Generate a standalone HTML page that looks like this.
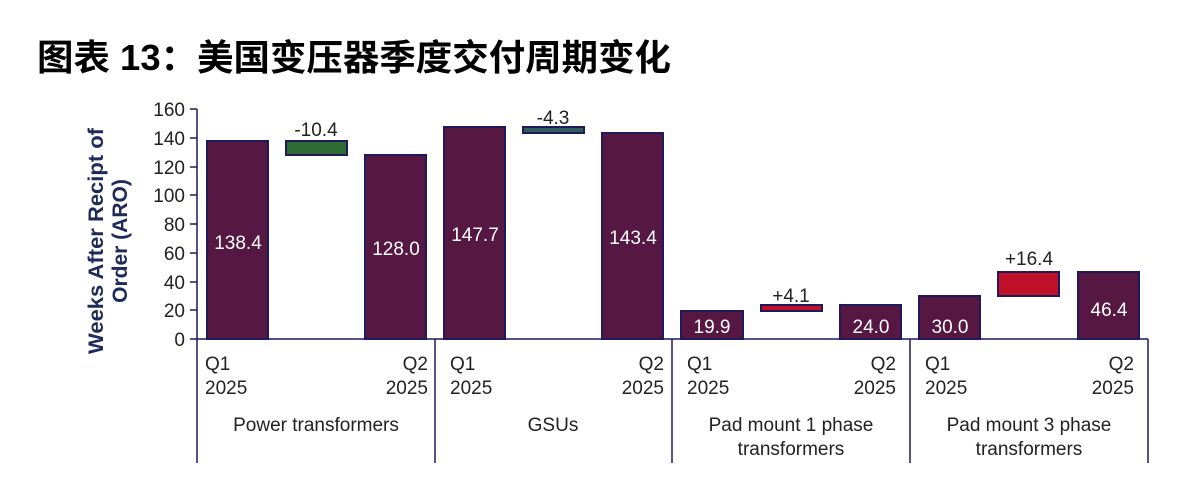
<!DOCTYPE html>
<html><head><meta charset="utf-8"><style>
body{margin:0;background:#fff;width:1185px;height:500px;overflow:hidden}
svg{display:block}
</style></head><body>
<svg width="1185" height="500" xmlns="http://www.w3.org/2000/svg" font-family="Liberation Sans, sans-serif">
<text x="37" y="70" font-size="36" font-weight="bold" fill="#000" textLength="634" lengthAdjust="spacingAndGlyphs" font-family="Liberation Sans, Noto Sans CJK SC, sans-serif">图表 13：美国变压器季度交付周期变化</text>
<g transform="translate(112,241) rotate(-90)" font-size="21" font-weight="bold" fill="#1f2a5a" text-anchor="middle">
<text x="0" y="-9" textLength="226" lengthAdjust="spacingAndGlyphs">Weeks After Recipt of</text>
<text x="0" y="15">Order (ARO)</text>
</g>
<g font-size="19" fill="#222" text-anchor="end">
<text x="185" y="116">160</text><text x="185" y="145">140</text><text x="185" y="174">120</text><text x="185" y="202">100</text><text x="185" y="231">80</text><text x="185" y="260">60</text><text x="185" y="289">40</text><text x="185" y="317">20</text><text x="185" y="346">0</text>
</g>
<g stroke="#1f1a5a" stroke-width="1.5">
<line x1="197" y1="109" x2="197" y2="339"/>
<line x1="190" y1="109" x2="197" y2="109"/><line x1="190" y1="138" x2="197" y2="138"/><line x1="190" y1="167" x2="197" y2="167"/><line x1="190" y1="195" x2="197" y2="195"/><line x1="190" y1="224" x2="197" y2="224"/><line x1="190" y1="253" x2="197" y2="253"/><line x1="190" y1="282" x2="197" y2="282"/><line x1="190" y1="310" x2="197" y2="310"/><line x1="190" y1="339" x2="197" y2="339"/>
<line x1="197" y1="339" x2="1148" y2="339"/>
<line x1="197" y1="339" x2="197" y2="463"/><line x1="435" y1="339" x2="435" y2="463"/><line x1="672" y1="339" x2="672" y2="463"/><line x1="910" y1="339" x2="910" y2="463"/><line x1="1148" y1="339" x2="1148" y2="463"/>
</g>
<g fill="#561843" stroke="#1f1a5a" stroke-width="2">
<rect x="207" y="141" width="61" height="198"/>
<rect x="365" y="155" width="61" height="184"/>
<rect x="444" y="127" width="61" height="212"/>
<rect x="602" y="133" width="61" height="206"/>
<rect x="681" y="311" width="62" height="28"/>
<rect x="840" y="305" width="61" height="34"/>
<rect x="919" y="296" width="61" height="43"/>
<rect x="1078" y="272" width="61" height="67"/>
</g>
<g stroke="#1f1a5a" stroke-width="2">
<rect x="286" y="141" width="61" height="14" fill="#2f6b35"/>
<rect x="523" y="127" width="61" height="6" fill="#2f5f5a"/>
<rect x="761" y="305" width="61" height="6" fill="#c0102a"/>
<rect x="998" y="272" width="61" height="24" fill="#c0102a"/>
</g>
<g font-size="19" fill="#fff" text-anchor="middle">
<text x="238" y="249">138.4</text><text x="396" y="255">128.0</text><text x="475" y="241">147.7</text><text x="633" y="244">143.4</text>
<text x="712" y="333">19.9</text><text x="871" y="333">24.0</text><text x="950" y="333">30.0</text><text x="1109" y="316">46.4</text>
</g>
<g font-size="19" fill="#222" text-anchor="middle">
<text x="316" y="136">-10.4</text><text x="553" y="124">-4.3</text><text x="791" y="302">+4.1</text><text x="1029" y="265">+16.4</text>
</g>
<g font-size="19" fill="#222">
<text x="205" y="370">Q1</text><text x="205" y="394">2025</text>
<text x="428" y="370" text-anchor="end">Q2</text><text x="428" y="394" text-anchor="end">2025</text>
<text x="450" y="370">Q1</text><text x="450" y="394">2025</text>
<text x="664" y="370" text-anchor="end">Q2</text><text x="664" y="394" text-anchor="end">2025</text>
<text x="687" y="370">Q1</text><text x="687" y="394">2025</text>
<text x="896" y="370" text-anchor="end">Q2</text><text x="896" y="394" text-anchor="end">2025</text>
<text x="925" y="370">Q1</text><text x="925" y="394">2025</text>
<text x="1134" y="370" text-anchor="end">Q2</text><text x="1134" y="394" text-anchor="end">2025</text>
</g>
<g font-size="19" fill="#222" text-anchor="middle">
<text x="316" y="431">Power transformers</text>
<text x="553" y="431">GSUs</text>
<text x="791" y="431">Pad mount 1 phase</text><text x="791" y="455">transformers</text>
<text x="1029" y="431">Pad mount 3 phase</text><text x="1029" y="455">transformers</text>
</g>
</svg>
</body></html>
